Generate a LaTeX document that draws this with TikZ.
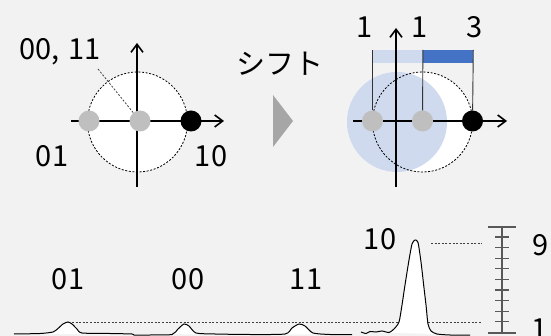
\documentclass[tikz,border=0pt]{standalone}
\usepackage{fontspec}
\setmainfont{Noto Sans CJK JP}
\usetikzlibrary{arrows.meta}
\definecolor{bggray}{HTML}{F2F2F2}
\definecolor{dotgray}{HTML}{BFBFBF}
\definecolor{arrowgray}{HTML}{A6A6A6}
\definecolor{paleblue}{HTML}{CFDAEE}
\definecolor{deepblue}{HTML}{4472C4}
\definecolor{scalegray}{HTML}{595959}
\begin{document}
\begin{tikzpicture}[x=1pt,y=-1pt,
    txt/.style={inner sep=0pt,font=\fontsize{29}{30}\selectfont},
    ball/.style={circle,inner sep=0pt,minimum size=21pt},
    axisline/.style={line width=2.4pt,
        -{Straight Barb[length=8pt,width=12pt,line width=1.6pt]}},
    ring/.style={circle,draw,inner sep=0pt,minimum size=100pt,
        line width=0.8pt,dash pattern=on 2pt off 1.6pt},
    dotline/.style={line width=0.8pt,dash pattern=on 2pt off 1.6pt,black!75}]
    \fill[bggray] (0,0) rectangle (551,336);
    \useasboundingbox (0,0) rectangle (551,336);
    % before the shift
    \node[ring,fill=white] (c1) at (137.5,122) {};
    \coordinate (xa) at (71,121);  \coordinate (xb) at (224,121);
    \coordinate (ya) at (137,187); \coordinate (yb) at (137,43);
    \draw[axisline] (xa) -- (xb);
    \draw[axisline] (ya) -- (yb);
    \foreach \x/\c [count=\i] in {89/dotgray,140/dotgray,191/black}
        \node[ball,fill=\c] (a\i) at (\x,121) {};
    \node[txt,anchor=base] (l0011) at (60,60) {00,\kern9pt11};
    \node[txt,anchor=base] (l01) at (52,167) {01};
    \node[txt,anchor=base] (l10) at (211,167) {10};
    \coordinate (lead) at (98,69);
    \draw[dotline] (lead) -- (a2);
    % shift
    \fill[arrowgray] (273,95) -- (293,121) -- (273,147) -- cycle;
    \node[txt] (shift) at (279.5,64) {シフト};
    % after the shift
    \fill[white] (422.5,122) circle[radius=50pt];
    \fill[paleblue] (397,122) circle[radius=50pt];
    \node[ring] (c2) at (422.5,122) {};
    \coordinate (xc) at (353,121); \coordinate (xd) at (507,121);
    \coordinate (yc) at (396,187); \coordinate (yd) at (396,28);
    \node[fill=paleblue,inner sep=0pt,minimum width=50pt,minimum height=13pt,
        anchor=north west] (lbar) at (372.5,50) {};
    \node[fill=deepblue,inner sep=0pt,minimum width=50pt,minimum height=13pt,
        anchor=north west] (dbar) at (lbar.north east) {};
    \draw[axisline] (xc) -- (xd);
    \draw[axisline] (yc) -- (yd);
    \foreach \x/\c [count=\i] in {372.5/dotgray,422.5/dotgray,472.5/black}
        \node[ball,fill=\c] (b\i) at (\x,121) {};
    \foreach \x/\n [count=\i] in {365/1,420/1,475/3}
        \node[txt,anchor=base] (n\i) at (\x,38) {\n};
    \draw[line width=0.9pt,black!80] (b1) -- (lbar.north west);
    \draw[line width=0.9pt,black!80] (b2) -- (lbar.north east);
    \draw[line width=0.9pt,black!80] (b3) -- (dbar.north east);
    % signal
    \draw[dotline] (72,322) -- (482,322);
    \draw[dotline] (431,243) -- (482,243);
    \draw[line width=1pt,preaction={fill=white}] plot[smooth,tension=.4] coordinates {
        (14,334) (40,333.5) (53,332) (58,328.5) (63,324) (68,322) (72,324)
        (77,329) (82,333) (110,333.5) (132,334) (134,335) (150,335) (172,334.5)
        (178,329) (184,324) (189,326) (196,333) (215,334) (250,334.5) (285,334)
        (292,328) (299,324) (305,326) (313,333) (330,334.5) (352,334.5)};
    \draw[line width=1pt,preaction={fill=white}] plot[smooth,tension=.4] coordinates {
        (361,332) (366,333.5) (370,331.5) (376,332) (382,331) (389,332.5)
        (394,329) (399,322) (402,305) (405,285) (409,260) (412,244) (415,240)
        (418,242.5) (421,262) (424,288) (426,305) (428,324) (431,331) (437,334)
        (450,335) (470,335)};
    \foreach \x/\t [count=\i] in {68/01,188/00,306/11}
        \node[txt,anchor=base] (p\i) at (\x,290) {\t};
    \node[txt,anchor=base] (p4) at (380,250) {10};
    % scale
    \coordinate (sctop) at (502,227); \coordinate (scbot) at (502,333);
    \draw[scalegray,line width=1.3pt] (sctop) -- (scbot);
    \draw[scalegray,line width=1.3pt] ([xshift=-14pt]sctop) -- ([xshift=14pt]sctop);
    \draw[scalegray,line width=1.3pt] ([xshift=-14pt]scbot) -- ([xshift=14pt]scbot);
    \foreach \i in {0,...,8}
        \draw[scalegray,line width=1.1pt] (495,237+\i*10.6) -- (509,237+\i*10.6);
    \node[txt,anchor=base] (s9) at (541,256) {9};
    \node[txt,anchor=base] (s1) at (540,339) {1};
\end{tikzpicture}
\end{document}
